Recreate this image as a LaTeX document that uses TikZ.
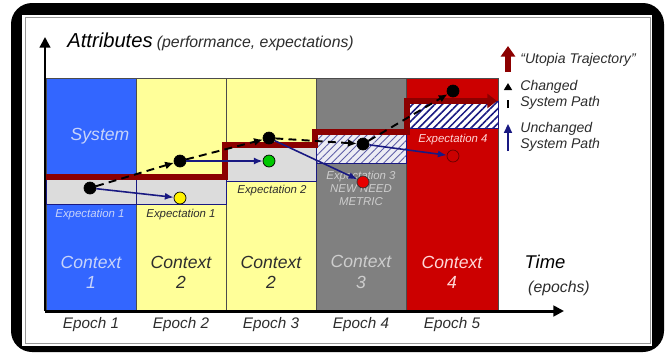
\documentclass[tikz,border=0pt]{standalone}
\usepackage{fontspec}
\setmainfont{Liberation Sans}
\usetikzlibrary{arrows.meta,patterns.meta}

\definecolor{ctxblue}{RGB}{51,102,255}
\definecolor{ctxyellow}{RGB}{255,255,153}
\definecolor{ctxgray}{RGB}{128,128,128}
\definecolor{ctxred}{RGB}{204,0,0}
\definecolor{utopia}{RGB}{140,0,0}
\definecolor{pathblue}{RGB}{25,25,130}
\definecolor{bandgray}{RGB}{220,220,220}
\definecolor{txtblue}{RGB}{200,212,250}
\definecolor{txtdark}{RGB}{45,45,45}
\definecolor{txtgray}{RGB}{205,205,205}
\definecolor{txtpink}{RGB}{255,215,215}

\tikzstyle{sysdot}=[circle,minimum size = 0.24cm,inner sep = 0pt,draw=black,fill=black]
\tikzstyle{lbl}=[inner sep = 0pt,align=center,font=\itshape]
\tikzstyle{exptxt}=[lbl,font=\itshape\fontsize{6.5}{7.4}\selectfont]
\tikzstyle{ctxtxt}=[lbl,font=\itshape\fontsize{10}{11.5}\selectfont]
\tikzstyle{epochtxt}=[lbl,text=txtdark,font=\itshape\fontsize{8.7}{10}\selectfont]
\tikzstyle{legtxt}=[lbl,align=left,anchor=west,text=txtdark,font=\itshape\fontsize{8}{9.3}\selectfont]

\begin{document}
\begin{tikzpicture}[x=0.02cm,y=-0.02cm]
        \tikzstyle{column}=[draw=black!70,line width=0.4pt]
        \tikzstyle{band}=[fill=bandgray,draw=pathblue,line width=0.5pt]
        \tikzstyle{changed}=[black,line width=1.1pt,dash pattern=on 4.5pt off 3pt,-{Latex[length=5pt,width=4.5pt]}]
        \tikzstyle{unchanged}=[pathblue,line width=0.9pt,-{Latex[length=5pt,width=4pt]}]
        \useasboundingbox (0,0) rectangle (666,353);
        %
        \fill[black,rounded corners=12] (11,3) rectangle (664,352);
        \fill[white] (22,15) rectangle (652,346);
        \draw[gray!80,line width=0.5pt] (25,17) rectangle (650,343);
        %
        \filldraw[column,fill=ctxblue]   (46,78)  rectangle (136,311);
        \filldraw[column,fill=ctxyellow] (136,78) rectangle (226,311);
        \filldraw[column,fill=ctxyellow] (226,78) rectangle (316,311);
        \filldraw[column,fill=ctxgray]   (316,78) rectangle (406,311);
        \filldraw[column,fill=ctxred]    (406,78) rectangle (498,311);
        %
        \filldraw[band] (46,178)  rectangle (136,204);
        \filldraw[band] (136,178) rectangle (226,204);
        \filldraw[band] (226,145) rectangle (316,181);
        \draw[draw=pathblue,line width=0.5pt,preaction={fill={rgb,255:red,236;green,236;blue,244}},
              pattern={Lines[angle=45,distance=3pt,line width=0.5pt]},pattern color=pathblue!70]
              (316,132) rectangle (406,163);
        \draw[draw=pathblue,line width=0.5pt,preaction={fill=white},
              pattern={Lines[angle=45,distance=3pt,line width=0.9pt]},pattern color=pathblue]
              (406,101) rectangle (498,128);
        %
        \draw[utopia,line width=3.4pt,line join=miter,-{Triangle[length=5.5pt,width=8pt]}]
              (46,177) -- (225,177) -- (225,145) -- (315,145) -- (315,132) -- (407,132) -- (407,101) -- (497,101);
        %
        \coordinate (origin) at (45,311);
        \coordinate (ytip) at (45,37);
        \coordinate (xtip) at (564,311);
        \draw[black,line width=1.2pt,-{Triangle[length=6pt,width=6pt]}] (origin) -- (ytip);
        \draw[black,line width=1.7pt,-{Triangle[length=6pt,width=6pt]}] (origin) -- (xtip);
        %
        \draw (67,47) node[lbl,anchor=base west,font=\itshape\fontsize{11.5}{13}\selectfont](attr){Attributes};
        \draw (attr.base east) node[lbl,anchor=base west,xshift=2pt,text=txtdark,font=\itshape\fontsize{9}{10}\selectfont](attrsub){(performance, expectations)};
        \draw (545,262) node[lbl,font=\itshape\fontsize{10.5}{12}\selectfont](time){Time};
        \draw (559,288) node[lbl,text=txtdark,font=\itshape\fontsize{9}{10}\selectfont](epochs){(epochs)};
        %
        \draw (100,136) node[ctxtxt,text=txtblue](system){System};
        \draw (90,215)  node[exptxt,text=txtblue](exp1a){Expectation 1};
        \draw (181,215) node[exptxt,text=txtdark](exp1b){Expectation 1};
        \draw (272,191) node[exptxt,text=txtdark](exp2){Expectation 2};
        \draw (361,188) node[exptxt,text=txtgray](exp3){Expectation 3\\NEW NEED\\METRIC};
        \draw (453,140) node[exptxt,text=txtpink](exp4){Expectation 4};
        %
        \draw (91,272)  node[ctxtxt,text=txtblue](ctx1){Context\\1};
        \draw (181,272) node[ctxtxt,text=txtdark](ctx2){Context\\2};
        \draw (271,272) node[ctxtxt,text=txtdark](ctx3){Context\\2};
        \draw (361,272) node[ctxtxt,text=txtgray](ctx4){Context\\3};
        \draw (452,272) node[ctxtxt,text=txtpink](ctx5){Context\\4};
        %
        \draw (91,325)  node[epochtxt](ep1){Epoch 1};
        \draw (181,325) node[epochtxt](ep2){Epoch 2};
        \draw (271,325) node[epochtxt](ep3){Epoch 3};
        \draw (361,325) node[epochtxt](ep4){Epoch 4};
        \draw (452,325) node[epochtxt](ep5){Epoch 5};
        %
        \draw (90,188)  node[sysdot](s1){};
        \draw (180,161) node[sysdot](s2){};
        \draw (269,138) node[sysdot](s3){};
        \draw (363,144) node[sysdot](s4){};
        \draw (453,91)  node[sysdot](s5){};
        \draw (180,198) node[sysdot,fill=yellow](u2){};
        \draw (269,161) node[sysdot,fill={rgb,255:red,0;green,200;blue,0}](u3){};
        \draw (363,182) node[sysdot,fill={rgb,255:red,230;green,0;blue,0},draw=black!80](u4){};
        \draw (453,156) node[sysdot,fill=none,draw=black!60!red](u5){};
        %
        \path
            (s1)    edge[changed]       (s2)
            (s2)    edge[changed]       (s3)
            (s3)    edge[changed]       (s4)
            (s4)    edge[changed]       (s5)
            (s1)    edge[unchanged]     (u2)
            (s2)    edge[unchanged]     (u3)
            (s3)    edge[unchanged]     (u4)
            (s4)    edge[unchanged]     (u5)
        ;
        %
        \coordinate (legU0) at (508,72);
        \coordinate (legU1) at (508,46);
        \coordinate (legC0) at (508,108);
        \coordinate (legC1) at (508,83);
        \coordinate (legN0) at (508,151);
        \coordinate (legN1) at (508,124);
        \draw[utopia,line width=3.4pt,-{Triangle[length=6pt,width=8pt]}] (legU0) -- (legU1);
        \draw[black,line width=1.2pt,dash pattern=on 4.5pt off 6pt,-{Triangle[length=4pt,width=4.5pt]}] (legC0) -- (legC1);
        \draw[pathblue,line width=1pt,-{Triangle[length=5pt,width=4.5pt]}] (legN0) -- (legN1);
        \draw (520,60)  node[legtxt](legU){“Utopia Trajectory”};
        \draw (520,95)  node[legtxt](legC){Changed\\System Path};
        \draw (520,137) node[legtxt](legN){Unchanged\\System Path};
\end{tikzpicture}
\end{document}
